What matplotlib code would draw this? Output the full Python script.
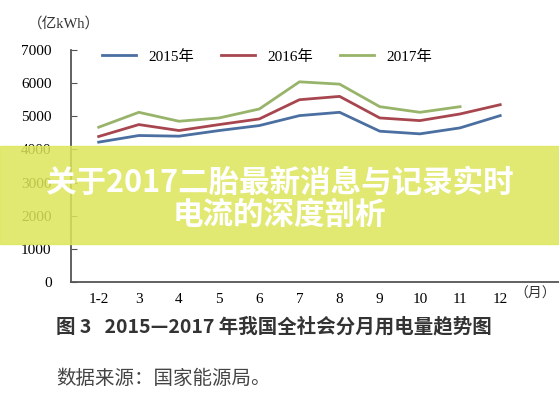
import matplotlib.pyplot as plt
from matplotlib.patches import Rectangle

months = ["1-2", "3", "4", "5", "6", "7", "8", "9", "10", "11", "12"]
y2015 = [4220, 4420, 4400, 4570, 4720, 5020, 5120, 4550, 4470, 4650, 5020]
y2016 = [4390, 4750, 4570, 4750, 4920, 5500, 5600, 4950, 4870, 5070, 5350]
y2017 = [4670, 5120, 4850, 4950, 5220, 6040, 5970, 5290, 5120, 5290]
yticks = [0, 1000, 2000, 3000, 4000, 5000, 6000, 7000]

serif = ["Liberation Serif", "Noto Sans CJK SC"]
cjk = ["Noto Sans CJK SC", "DejaVu Sans"]

fig = plt.figure(figsize=(5.59, 4.0), dpi=100)
ax = fig.add_axes([0.127, 0.295, 0.877, 0.58])
x = list(range(len(months)))
ax.plot(x, y2015, color="#4a6fa0", lw=2, label="2015年")
ax.plot(x, y2016, color="#a8464f", lw=2, label="2016年")
ax.plot(x[:len(y2017)], y2017, color="#98b46a", lw=2, label="2017年")
ax.set_xlim(-0.69, 11.52)
ax.set_ylim(0, 7000)
ax.set_yticks(yticks)
ax.set_yticklabels([str(v) for v in yticks], family=serif, fontsize=11)
ax.set_xticks(x)
ax.set_xticklabels(months, family=serif, fontsize=11)
ax.tick_params(axis="x", length=0, pad=8)
ax.tick_params(axis="y", length=4, direction="in", pad=14, color="#555555")
for s in ["top", "right"]:
    ax.spines[s].set_visible(False)
for s in ["left", "bottom"]:
    ax.spines[s].set_color("#555555")
    ax.spines[s].set_linewidth(1.3)
ax.legend(loc="upper center", bbox_to_anchor=(0.4, 1.06), ncol=3, frameon=False,
          prop={"family": serif, "size": 11}, handlelength=2.2, columnspacing=1.8)

fig.text(0.05, 0.93, "（亿kWh）", family=serif, fontsize=10.5, color="#333333")
fig.text(0.995, 0.255, "（月）", family=cjk, fontsize=10, color="#333333", ha="right")
fig.text(0.1, 0.17, "图 3   2015—2017 年我国全社会分月用电量趋势图", family=cjk,
         fontsize=14, fontweight="bold", color="#333333")
fig.text(0.1, 0.04, "数据来源：国家能源局。", family=cjk, fontsize=14, color="#444444")

fig.patches.append(Rectangle((0, 0.39), 1, 0.245, transform=fig.transFigure,
                             color="#dde65a", alpha=0.85, zorder=5))
fig.text(0.5, 0.543, "关于2017二胎最新消息与记录实时", family=cjk, fontsize=22,
         fontweight="bold", color="white", ha="center", va="center", zorder=6)
fig.text(0.5, 0.462, "电流的深度剖析", family=cjk, fontsize=22,
         fontweight="bold", color="white", ha="center", va="center", zorder=6)

fig.savefig("out.png", dpi=100)
